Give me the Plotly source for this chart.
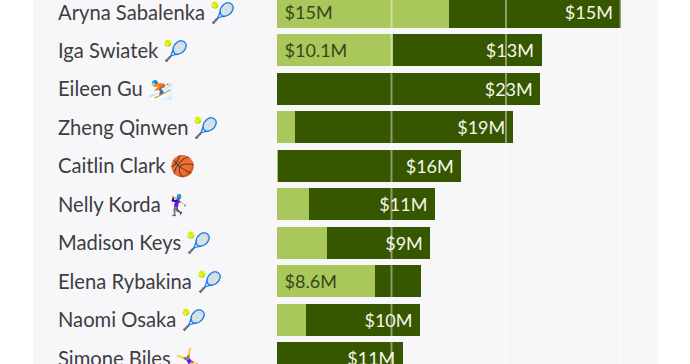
import plotly.graph_objects as go

names = ["Aryna Sabalenka", "Iga Swiatek", "Eileen Gu", "Zheng Qinwen", "Caitlin Clark",
         "Nelly Korda", "Madison Keys", "Elena Rybakina", "Naomi Osaka", "Simone Biles"]
emoji = ["🎾", "🎾", "⛷️", "🎾", "🏀", "🏌️‍♀️", "🎾", "🎾", "🎾", "🤸‍♀️"]
light_vals = [15, 10.1, 0.0, 1.6, 0.1, 2.8, 4.4, 8.6, 2.5, 0.0]
dark_vals = [15, 13, 23, 19, 16, 11, 9, 4, 10, 11]
light_labels = ["$15M", "$10.1M", "", "", "", "", "", "$8.6M", "", ""]
dark_labels = ["$15M", "$13M", "$23M", "$19M", "$16M", "$11M", "$9M", "", "$10M", "$11M"]
grid_ticks = [10, 20, 30]

W, H = 690, 364
PX_PER_M = 11.45
X0, X1 = 277, 658
ROW = 38.45
TOP = 12

fig = go.Figure()
PAD = "\u00a0"
fig.add_bar(y=names, x=light_vals, orientation="h", width=32 / ROW,
            marker=dict(color="#aac75c", line_width=0),
            text=[PAD + t if t else "" for t in light_labels], textposition="inside",
            insidetextanchor="start", constraintext="none", textangle=0,
            insidetextfont=dict(family="Lato", size=18, color="#37461a"),
            cliponaxis=True, hoverinfo="skip")
fig.add_bar(y=names, x=dark_vals, orientation="h", width=32 / ROW,
            marker=dict(color="#365600", line_width=0),
            text=[t + PAD if t else "" for t in dark_labels], textposition="inside",
            insidetextanchor="end", constraintext="none", textangle=0,
            insidetextfont=dict(family="Lato", size=18, color="#f6f8ea"),
            cliponaxis=True, hoverinfo="skip")

for n, e in zip(names, emoji):
    fig.add_annotation(xref="paper", yref="y", x=56 / W, y=n, xanchor="left", yanchor="middle",
                       text=f"{n} {e}", showarrow=False, align="left",
                       font=dict(family="Lato, 'Noto Color Emoji'", size=20.2, color="#3d3d42"))

fig.add_shape(type="rect", xref="paper", yref="paper", x0=33 / W, x1=658 / W, y0=0, y1=1,
              fillcolor="#f7f7f9", line_width=0, layer="below")
for t in grid_ticks:
    fig.add_shape(type="line", xref="x", yref="paper", x0=t, x1=t, y0=0, y1=1,
                  line=dict(color="rgba(255,255,255,0.42)", width=2), layer="above")

fig.update_layout(
    width=W, height=H, margin=dict(l=0, r=0, t=0, b=0, pad=0), barmode="stack",
    paper_bgcolor="white", plot_bgcolor="rgba(0,0,0,0)", showlegend=False,
    xaxis=dict(domain=[X0 / W, X1 / W], range=[0, (X1 - X0) / PX_PER_M], visible=False),
    yaxis=dict(type="category", categoryorder="array", categoryarray=names,
               range=[(H - TOP) / ROW, -TOP / ROW], visible=False),
)
fig.write_html("out.html", config={"displayModeBar": False},
               post_script="document.body.style.margin='0';document.body.style.overflow='hidden';")
